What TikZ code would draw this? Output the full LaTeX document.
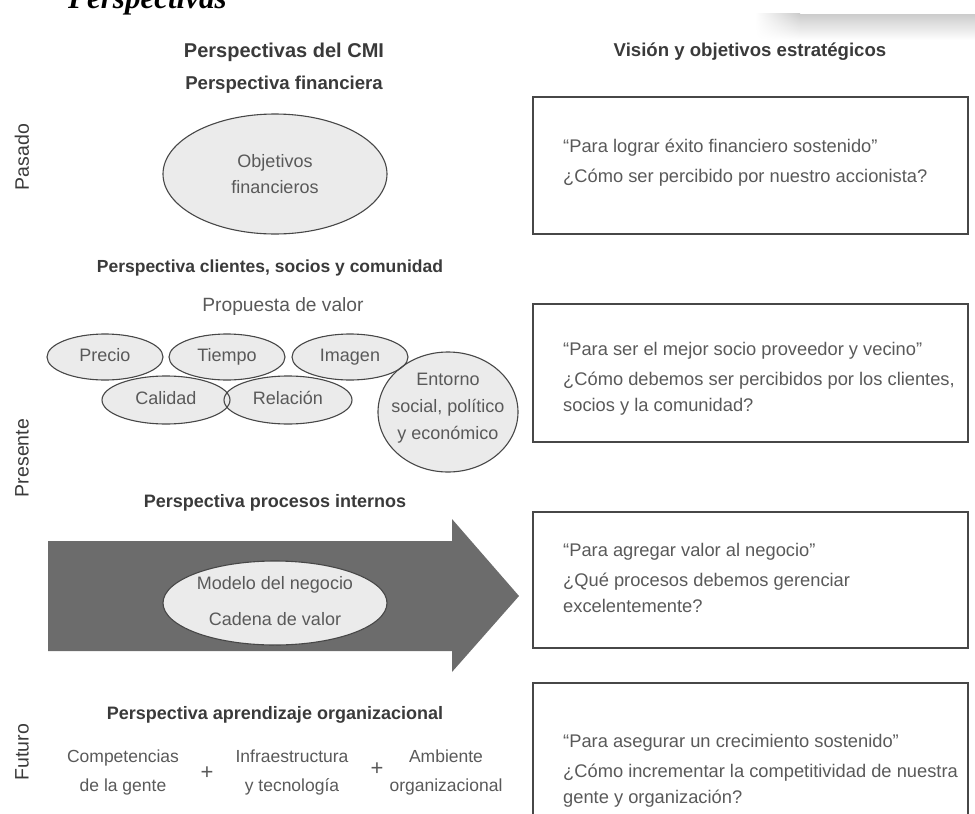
\documentclass[tikz,border=0pt]{standalone}
\usepackage{fontspec}
\setmainfont{Liberation Sans}
\newfontfamily\captionserif{Liberation Serif}
\usetikzlibrary{shapes.geometric,fadings}

\definecolor{ink}{HTML}{3A3A3A}
\definecolor{bodytext}{HTML}{595959}
\definecolor{ovalfill}{HTML}{EBEBEB}
\definecolor{edge}{HTML}{474747}
\definecolor{arrowgray}{HTML}{6C6C6C}

\begin{document}
\begin{tikzpicture}[x=1pt,y=-1pt,
  heading/.style={font=\bfseries\fontsize{18.6}{22}\selectfont, text=ink, inner sep=0},
  txt/.style={font=\fontsize{18}{26}\selectfont, text=bodytext, inner sep=0, align=center},
  oneline/.style={text height=13pt, text depth=4pt},
  oval/.style={ellipse, inner sep=0, txt},
  rim/.style={draw=edge, line width=1.1pt},
  visionbox/.style={draw=edge, line width=1.5pt},
  boxtxt/.style={font=\fontsize{18.3}{26}\selectfont, text=bodytext, anchor=west, align=left, inner sep=0},
  era/.style={rotate=90, font=\fontsize{19.5}{22}\selectfont, text=ink, inner sep=0},
  plus/.style={font=\fontsize{22}{24}\selectfont, text=bodytext, inner sep=0}]

\useasboundingbox (0,0) rectangle (975,814);

% page caption, partly above the top edge
\node[anchor=base west, inner sep=0, font=\captionserif\bfseries\itshape\fontsize{31}{34}\selectfont]
  (caption) at (68,8) {Perspectivas};

% soft shadow strip at the top right
\shade[top color=black!20, bottom color=white, path fading=west] (755,14) rectangle (800,40);
\shade[top color=black!20, bottom color=white] (800,14) rectangle (975,40);

% column headings
\node[heading, font=\bfseries\fontsize{20}{24}\selectfont] (hleft) at (284,52) {Perspectivas del CMI};
\node[heading] (hright) at (750,52) {Visión y objetivos estratégicos};

% era labels
\node[era] (pasado) at (22,157) {Pasado};
\node[era] (presente) at (22,458) {Presente};
\node[era] (futuro) at (22,752) {Futuro};

% ---- financial perspective
\node[heading] (tfin) at (284,85) {Perspectiva financiera};
\fill[ovalfill] (275,174) ellipse [x radius=112, y radius=60];
\node[oval, minimum width=224, minimum height=120] (fin) at (275,174) {Objetivos\\financieros};
\draw[rim] (fin.center) ellipse [x radius=112, y radius=60];

% ---- customers, partners and community
\node[heading, font=\bfseries\fontsize{17.5}{22}\selectfont] (tcli) at (270,268)
  {Perspectiva clientes, socios y comunidad};
\node[txt, font=\fontsize{19.2}{24}\selectfont] (prop) at (283,307) {Propuesta de valor};

% value-proposition ovals: fills first, then all outlines on top
\foreach \cx/\cy/\rx/\ry in {105/357/58/23, 227/357/58/23, 350/357/58/23,
    166/400/64/24, 288/400/64/24, 448/412/70/60}
  \fill[ovalfill] (\cx,\cy) ellipse [x radius=\rx, y radius=\ry];
\foreach \n/\cx/\cy/\t in {precio/105/357/Precio, tiempo/227/357/Tiempo,
    imagen/350/357/Imagen, calidad/166/400/Calidad, relacion/288/400/Relación}
  \node[oval, oneline] (\n) at (\cx,\cy) {\t};
\node[oval] (entorno) at (448,408) {Entorno\\[1pt]social, político\\[1pt]y económico};
\foreach \n/\rx/\ry in {precio/58/23, tiempo/58/23, imagen/58/23,
    calidad/64/24, relacion/64/24}
  \draw[rim] (\n.center) ellipse [x radius=\rx, y radius=\ry];
\draw[rim] (448,412) ellipse [x radius=70, y radius=60];

% ---- internal processes
\node[heading, font=\bfseries\fontsize{18}{22}\selectfont] (tproc) at (275,503)
  {Perspectiva procesos internos};
\fill[arrowgray] (48,541) -- (452,541) -- (452,519) -- (519,596)
  -- (452,672) -- (452,651) -- (48,651) -- cycle;
\fill[ovalfill] (275,603) ellipse [x radius=112, y radius=42];
\node[oval, font=\fontsize{18}{36}\selectfont] (modelo) at (275,601)
  {Modelo del negocio\\Cadena de valor};
\draw[rim] (275,603) ellipse [x radius=112, y radius=42];

% ---- organisational learning
\node[heading, font=\bfseries\fontsize{18}{22}\selectfont] (tapr) at (275,715)
  {Perspectiva aprendizaje organizacional};
\node[txt, font=\fontsize{17.5}{29}\selectfont] (comp) at (123,772) {Competencias\\de la gente};
\node[plus] (plusa) at (207,773) {+};
\node[txt, font=\fontsize{17.5}{29}\selectfont] (infra) at (292,772) {Infraestructura\\y tecnología};
\node[plus] (plusb) at (377,769) {+};
\node[txt, font=\fontsize{17.5}{29}\selectfont] (amb) at (446,772) {Ambiente\\organizacional};

% ---- vision boxes
\draw[visionbox] (533,97) rectangle (968,234);
\node[boxtxt] (vfin) at (563,163)
  {“Para lograr éxito financiero sostenido”\\[4pt]¿Cómo ser percibido por nuestro accionista?};

\draw[visionbox] (533,304) rectangle (968,442);
\node[boxtxt] (vcli) at (563,379)
  {“Para ser el mejor socio proveedor y vecino”\\[4pt]¿Cómo debemos ser percibidos por los clientes,\\socios y la comunidad?};

\draw[visionbox] (533,512) rectangle (968,648);
\node[boxtxt] (vproc) at (563,578)
  {“Para agregar valor al negocio”\\[4pt]¿Qué procesos debemos gerenciar\\excelentemente?};

\draw[visionbox] (533,830) -- (533,683) -- (968,683) -- (968,830);
\node[boxtxt] (vapr) at (563,771)
  {“Para asegurar un crecimiento sostenido”\\[4pt]¿Cómo incrementar la competitividad de nuestra\\gente y organización?};

\end{tikzpicture}
\end{document}
